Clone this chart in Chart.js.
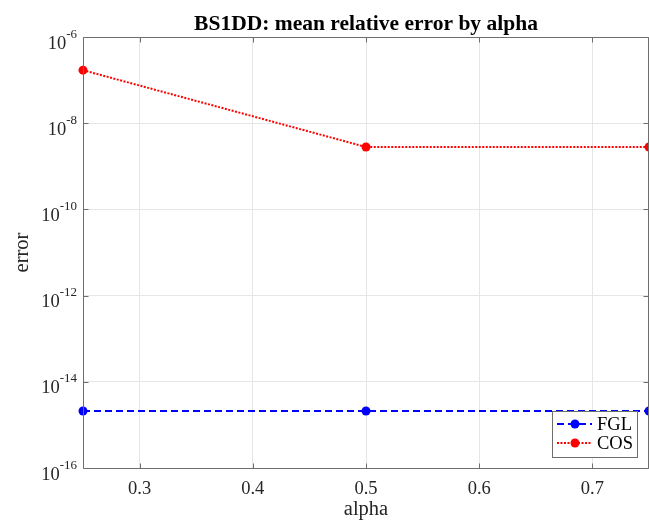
<!DOCTYPE html>
<html><head><meta charset="utf-8">
<script src="https://cdn.jsdelivr.net/npm/chart.js@4/dist/chart.umd.min.js"></script>
<style>html,body{margin:0;padding:0;background:#fff}#wrap{width:649px;height:522px;position:relative}canvas{display:block}</style>
</head><body><div id="wrap"><canvas id="c" width="649" height="522"></canvas></div>
<script>
// ---- data ----
const alphas = [0.25, 0.5, 0.75];
const fglErr = [2.1e-15, 2.1e-15, 2.1e-15];
const cosErr = [1.7e-7, 2.8e-9, 2.8e-9];
const seriesNames = ['FGL', 'COS'];
const xTicks = [0.3, 0.4, 0.5, 0.6, 0.7];
const yTickExps = [-16, -14, -12, -10, -8, -6];
const titleText = 'BS1DD: mean relative error by alpha';
const xLabel = 'alpha';
const yLabel = 'error';

const FONT = "'Liberation Serif','Times New Roman',serif";
const AXC = '#262626';
const BOXC = '#6e6e6e';
const GRIDC = '#e6e6e6';

const decor = {
  id: 'decor',
  afterDraw(chart) {
    const ctx = chart.ctx, ca = chart.chartArea;
    const xs = chart.scales.x, ys = chart.scales.y;
    ctx.save();
    // title centered over axes
    ctx.fillStyle = '#000';
    ctx.font = 'bold 21.5px ' + FONT;
    ctx.textAlign = 'center'; ctx.textBaseline = 'alphabetic';
    ctx.fillText(titleText, (ca.left + ca.right) / 2, 30);
    // box
    ctx.strokeStyle = BOXC; ctx.lineWidth = 1;
    const L = Math.round(ca.left) + 0.5, R = Math.round(ca.right) - 0.5;
    const T = Math.round(ca.top) + 0.5, B = Math.round(ca.bottom) + 0.5;
    ctx.beginPath();
    ctx.rect(L, T, R - L, B - T);
    // inward ticks
    xTicks.forEach(v => {
      const px = Math.round(xs.getPixelForValue(v)) + 0.5;
      ctx.moveTo(px, B); ctx.lineTo(px, B - 5);
      ctx.moveTo(px, T); ctx.lineTo(px, T + 5);
    });
    yTickExps.forEach(e => {
      const py = Math.round(ys.getPixelForValue(Math.pow(10, e))) + 0.5;
      ctx.moveTo(L, py); ctx.lineTo(L + 5, py);
      ctx.moveTo(R, py); ctx.lineTo(R - 5, py);
    });
    ctx.stroke();
    // y tick labels with superscripts
    ctx.fillStyle = AXC;
    ctx.textAlign = 'left'; ctx.textBaseline = 'alphabetic';
    const rightX = ca.left - 6;
    yTickExps.forEach(e => {
      const py = ys.getPixelForValue(Math.pow(10, e));
      const ex = String(e);
      ctx.font = '13px ' + FONT;
      const ew = ctx.measureText(ex).width;
      ctx.font = '18.5px ' + FONT;
      const bw = ctx.measureText('10').width;
      ctx.fillText('10', rightX - ew - bw, py + 11.5);
      ctx.font = '13px ' + FONT;
      ctx.fillText(ex, rightX - ew, py + 0.5);
    });
    // legend
    const lx = 552.5, ly = 411.5, lw = 85, lh = 46;
    ctx.fillStyle = '#fff';
    ctx.fillRect(lx, ly, lw, lh);
    ctx.strokeStyle = BOXC; ctx.lineWidth = 1;
    ctx.strokeRect(lx, ly, lw, lh);
    chart.data.datasets.forEach((ds, i) => {
      const yy = 424 + i * 19;
      ctx.strokeStyle = ds.borderColor; ctx.lineWidth = ds.borderWidth;
      ctx.setLineDash(ds.borderDash);
      ctx.beginPath(); ctx.moveTo(557, yy); ctx.lineTo(592, yy); ctx.stroke();
      ctx.setLineDash([]);
      ctx.fillStyle = ds.pointBackgroundColor;
      ctx.beginPath(); ctx.arc(575, yy, ds.pointRadius, 0, Math.PI * 2); ctx.fill();
      ctx.fillStyle = '#000';
      ctx.font = '18.5px ' + FONT;
      ctx.textAlign = 'left';
      ctx.textBaseline = 'middle';
      ctx.fillText(ds.label, 597, yy + 1);
    });
    ctx.restore();
  }
};

const toPts = (xs, ys) => xs.map((x, i) => ({x: x, y: ys[i]}));

new Chart(document.getElementById('c'), {
  type: 'line',
  data: {
    datasets: [
      {label: seriesNames[0], data: toPts(alphas, fglErr), borderColor: '#0000ff', backgroundColor: '#0000ff',
       pointBackgroundColor: '#0000ff', pointBorderWidth: 0, pointRadius: 4.5, borderWidth: 2,
       borderDash: [7, 4], clip: false, tension: 0},
      {label: seriesNames[1], data: toPts(alphas, cosErr), borderColor: '#ff0000', backgroundColor: '#ff0000',
       pointBackgroundColor: '#ff0000', pointBorderWidth: 0, pointRadius: 4.5, borderWidth: 2,
       borderDash: [2, 1.5], clip: false, tension: 0}
    ]
  },
  options: {
    responsive: false, animation: false, devicePixelRatio: 1,
    layout: {autoPadding: false, padding: {top: 37, right: 0, left: 0, bottom: 0}},
    plugins: {
      legend: {display: false}, tooltip: {enabled: false}, title: {display: false}
    },
    scales: {
      x: {
        type: 'linear', min: 0.25, max: 0.75,
        afterBuildTicks: s => { s.ticks = xTicks.map(v => ({value: v})); },
        afterFit: s => { s.height = 54; s.paddingLeft = 0; s.paddingRight = 0; },
        grid: {color: GRIDC, drawTicks: false},
        border: {display: false},
        ticks: {color: AXC, font: {family: FONT, size: 18.5}, padding: 10, maxRotation: 0, autoSkip: false,
          callback: v => v.toFixed(1)},
        title: {display: true, text: xLabel, color: AXC, font: {family: FONT, size: 20.5}, padding: {top: 0, bottom: 0}}
      },
      y: {
        type: 'logarithmic', min: 1e-16, max: 1e-6,
        afterBuildTicks: s => { s.ticks = yTickExps.map(e => ({value: Math.pow(10, e)})); },
        afterFit: s => { s.width = 83; s.paddingTop = 0; s.paddingBottom = 0; },
        grid: {color: GRIDC, drawTicks: false},
        border: {display: false},
        ticks: {display: false},
        title: {display: true, text: yLabel, color: AXC, font: {family: FONT, size: 20.5}, padding: {top: 10, bottom: 0}}
      }
    }
  },
  plugins: [decor]
});
</script>
</body></html>
